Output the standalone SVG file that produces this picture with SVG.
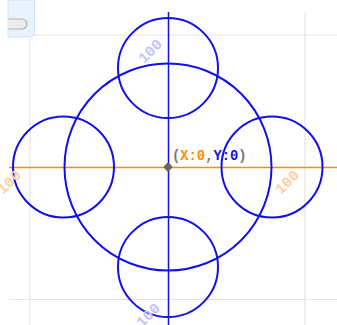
<svg xmlns="http://www.w3.org/2000/svg" width="337" height="325" viewBox="0 0 337 325">
<style>
.grid{stroke:#e4e4e4;stroke-width:1.2;fill:none}
.circ{stroke:#1010ee;stroke-width:2;fill:none}
.lbl{font-family:"Liberation Mono","DejaVu Sans Mono",monospace;font-weight:bold;font-size:15px;text-anchor:middle;dominant-baseline:central}
.lv{fill:#c4c4f6}
.lo{fill:#ffcf9e}
</style>
<defs>
<clipPath id="pc"><rect x="8" y="0" width="26" height="37"/></clipPath>
</defs>
<rect width="337" height="325" fill="#ffffff"/>
<g id="grid">
<line class="grid" x1="34" y1="35" x2="337" y2="35"/>
<line class="grid" x1="9" y1="299.5" x2="337" y2="299.5"/>
<line class="grid" x1="30" y1="38" x2="30" y2="325"/>
<line class="grid" x1="305" y1="12" x2="305" y2="325"/>
</g>
<g id="panel">
<path d="M8 0 H34.5 V32 Q34.5 37 29.5 37 H8 Z" fill="#e8f3fd" stroke="#d2e2f2" stroke-width="1"/>
<rect x="0" y="19" width="27" height="10" rx="5" fill="#ececec" stroke="#b4b4b4" stroke-width="1.2" clip-path="url(#pc)"/>
</g>
<g id="axes">
<line x1="9" y1="167.5" x2="337" y2="167.5" stroke="#ff8c00" stroke-width="1.5"/>
<line x1="168.5" y1="12" x2="168.5" y2="325" stroke="#1010ee" stroke-width="1.5"/>
</g>
<g id="circles">
<circle class="circ" cx="168" cy="167" r="103.5"/>
<circle class="circ" cx="168" cy="68" r="50"/>
<circle class="circ" cx="168" cy="267" r="50"/>
<circle class="circ" cx="63.5" cy="167" r="50.5"/>
<circle class="circ" cx="272" cy="167" r="50.5"/>
</g>
<g id="labels">
<text class="lbl lv" transform="translate(151,52) rotate(-45)">100</text>
<text class="lbl lv" transform="translate(149,316) rotate(-45)">100</text>
<text class="lbl lo" transform="translate(10,183) rotate(-45)">100</text>
<text class="lbl lo" transform="translate(288,183) rotate(-45)">100</text>
</g>
<g id="origin">
<rect x="164.5" y="163.5" width="7" height="7" rx="1.5" fill="#666666" transform="rotate(45 168 167)"/>
<text x="172" y="160" font-family="'Liberation Mono','DejaVu Sans Mono',monospace" font-weight="bold" font-size="13.8" fill="#777777">(<tspan fill="#ff8c00">X:0</tspan>,<tspan fill="#1010ee">Y:0</tspan>)</text>
</g>
</svg>
